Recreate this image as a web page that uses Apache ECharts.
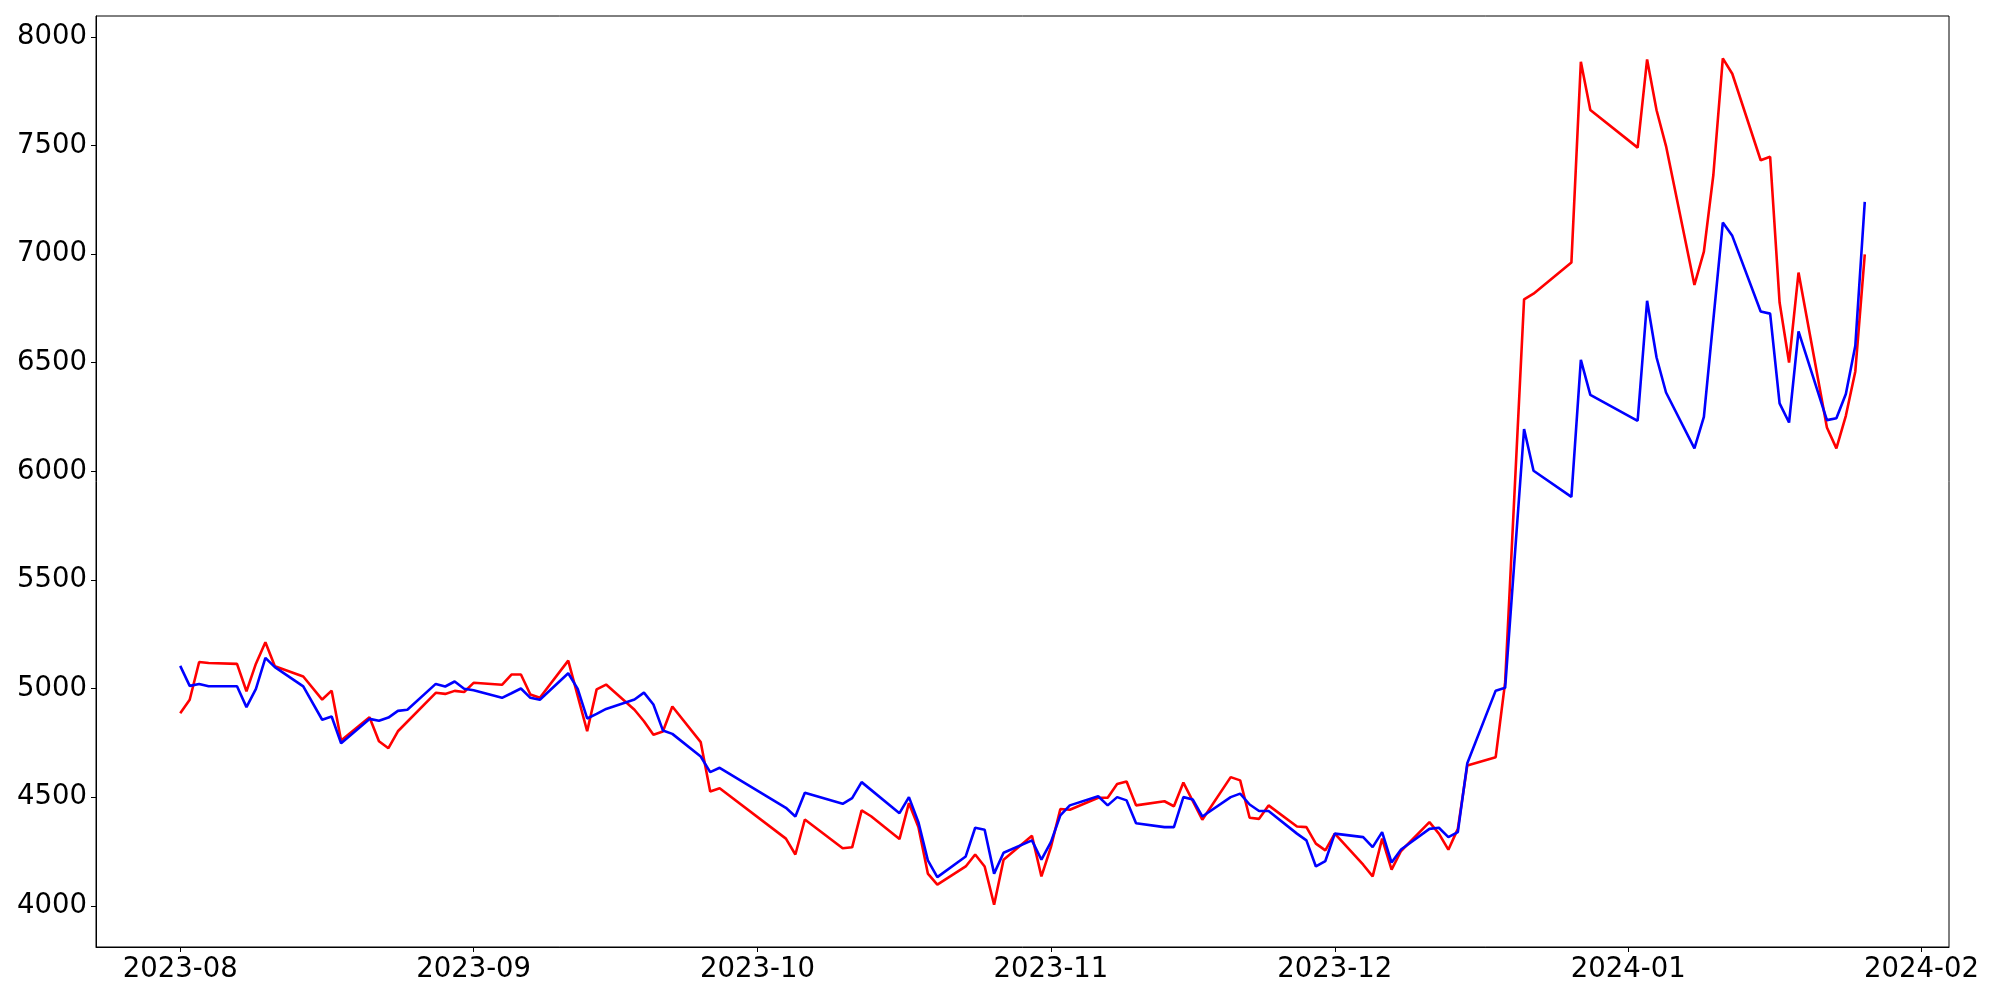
<!DOCTYPE html>
<html>
<head>
<meta charset="utf-8">
<script src="https://cdn.jsdelivr.net/npm/echarts@6/dist/echarts.min.js"></script>
<style>
html,body{margin:0;padding:0;background:#fff;}
#chart{width:2000px;height:1000px;}
</style>
</head>
<body>
<div id="chart"></div>
<script>
// Trading dates (2023-08-01 .. 2024-01-26)
const dates = [
  '2023-08-01','2023-08-02','2023-08-03','2023-08-04','2023-08-07','2023-08-08','2023-08-09','2023-08-10','2023-08-11','2023-08-14','2023-08-16','2023-08-17','2023-08-18','2023-08-21','2023-08-22','2023-08-23','2023-08-24','2023-08-25','2023-08-28','2023-08-29','2023-08-30','2023-08-31',
  '2023-09-01','2023-09-04','2023-09-05','2023-09-06','2023-09-07','2023-09-08','2023-09-11','2023-09-12','2023-09-13','2023-09-14','2023-09-15','2023-09-18','2023-09-19','2023-09-20','2023-09-21','2023-09-22','2023-09-25','2023-09-26','2023-09-27',
  '2023-10-04','2023-10-05','2023-10-06','2023-10-10','2023-10-11','2023-10-12','2023-10-13','2023-10-16','2023-10-17','2023-10-18','2023-10-19','2023-10-20','2023-10-23','2023-10-24','2023-10-25','2023-10-26','2023-10-27','2023-10-30','2023-10-31',
  '2023-11-01','2023-11-02','2023-11-03','2023-11-06','2023-11-07','2023-11-08','2023-11-09','2023-11-10','2023-11-13','2023-11-14','2023-11-15','2023-11-16','2023-11-17','2023-11-20','2023-11-21','2023-11-22','2023-11-23','2023-11-24','2023-11-27','2023-11-28','2023-11-29','2023-11-30',
  '2023-12-01','2023-12-04','2023-12-05','2023-12-06','2023-12-07','2023-12-08','2023-12-11','2023-12-12','2023-12-13','2023-12-14','2023-12-15','2023-12-18','2023-12-19','2023-12-20','2023-12-21','2023-12-22','2023-12-26','2023-12-27','2023-12-28',
  '2024-01-02','2024-01-03','2024-01-04','2024-01-05','2024-01-08','2024-01-09','2024-01-10','2024-01-11','2024-01-12','2024-01-15','2024-01-16','2024-01-17','2024-01-18','2024-01-19','2024-01-22','2024-01-23','2024-01-24','2024-01-25','2024-01-26'
];

const redValues = [
  4887,4949,5123,5118,5114,4988,5115,5214,5103,5056,4950,4991,4762,4869,4758,4726,4804,null,4981,4976,4990,4985,
  5027,5018,5065,5065,4973,4958,5129,null,4804,4997,5019,4903,4850,4788,4803,4918,4754,4527,4542,
  4310,4237,4398,4266,4270,4440,4413,4308,4473,4363,4149,4098,4182,4237,4182,4006,4213,4323,4136,
  4271,4446,4443,4498,4498,4561,4573,4463,4482,4459,4568,null,4397,4593,4578,4406,4401,4463,4366,4363,4287,4256,
  4333,4190,4136,4310,4167,4253,4386,4333,4259,4355,4647,4685,5030,null,6792,6818,6961,7885,7663,
  7490,7896,7662,7497,6858,7011,7364,7901,7830,7432,7448,6777,6501,6915,6202,6106,6256,6460,6999
];

const blueValues = [
  5105,5013,5022,5011,5011,4915,4999,5142,5099,5011,4857,4872,4749,4861,4852,4867,4898,4903,5022,5010,5033,5000,
  4993,4958,4979,5001,4958,4949,5071,4999,4863,4884,4907,4950,4982,4927,4808,4792,4688,4616,4636,
  4452,4412,4521,4470,4496,4570,null,4427,4501,4386,4210,4133,4228,4360,4351,4149,4245,4302,4213,
  4294,4417,4463,4505,4463,4501,4486,4381,4363,4363,4501,4490,4412,4501,4517,4467,4437,4437,4333,4302,4182,4207,
  4333,4317,4271,4340,4200,4260,4355,4360,4317,4340,4657,4991,5004,null,6195,6003,5883,6513,6352,
  6233,6785,6524,6363,6106,6251,null,7145,7084,6736,6726,6313,6225,6644,6236,6245,6356,6578,7240
];

const xTickLabels = ['2023-08','2023-09','2023-10','2023-11','2023-12','2024-01','2024-02'];
const yTickValues = [4000,4500,5000,5500,6000,6500,7000,7500,8000];

function ts(s) {
  const p = s.split('-').map(Number);
  return Date.UTC(p[0], p[1] - 1, p[2] || 1);
}

const xs = dates.map(ts);
const xMinData = Math.min(...xs), xMaxData = Math.max(...xs);
const xPad = (xMaxData - xMinData) * 0.05;
const allVals = redValues.concat(blueValues).filter(v => v !== null);
const yMinData = Math.min(...allVals), yMaxData = Math.max(...allVals);
const yPad = (yMaxData - yMinData) * 0.05;

const xTickValues = xTickLabels.map(ts);

const chart = echarts.init(document.getElementById('chart'), null, {renderer: 'canvas'});
chart.setOption({
  animation: false,
  backgroundColor: '#ffffff',
  grid: {
    left: 96, right: 51, top: 16, bottom: 53,
    show: true, borderColor: '#000000', borderWidth: 1, containLabel: false
  },
  xAxis: {
    type: 'value',
    min: xMinData - xPad,
    max: xMaxData + xPad,
    splitLine: {show: false},
    axisLine: {show: true, onZero: false, lineStyle: {color: '#000', width: 1}},
    axisTick: {show: true, length: 5, lineStyle: {color: '#000', width: 1}, customValues: xTickValues},
    axisLabel: {
      customValues: xTickValues,
      formatter: function (v) {
        let best = 0, bd = Infinity;
        xTickValues.forEach((t, i) => { const d = Math.abs(t - v); if (d < bd) { bd = d; best = i; } });
        return xTickLabels[best];
      },
      color: '#000', fontFamily: 'DejaVu Sans', fontSize: 27.5, margin: 9,
      hideOverlap: false
    }
  },
  yAxis: {
    type: 'value',
    min: yMinData - yPad,
    max: yMaxData + yPad,
    splitLine: {show: false},
    axisLine: {show: true, onZero: false, lineStyle: {color: '#000', width: 1}},
    axisTick: {show: true, length: 5, lineStyle: {color: '#000', width: 1}, customValues: yTickValues},
    axisLabel: {
      customValues: yTickValues,
      formatter: function (v) { return String(Math.round(v)); },
      color: '#000', fontFamily: 'DejaVu Sans', fontSize: 27.5, margin: 9
    }
  },
  series: [
    {
      type: 'line', name: 'red', showSymbol: false, symbol: 'none', connectNulls: true,
      lineStyle: {color: '#ff0000', width: 2.6}, itemStyle: {color: '#ff0000'},
      data: xs.map((t, i) => [t, redValues[i]])
    },
    {
      type: 'line', name: 'blue', showSymbol: false, symbol: 'none', connectNulls: true,
      lineStyle: {color: '#0000ff', width: 2.6}, itemStyle: {color: '#0000ff'},
      data: xs.map((t, i) => [t, blueValues[i]])
    }
  ]
});
</script>
</body>
</html>
